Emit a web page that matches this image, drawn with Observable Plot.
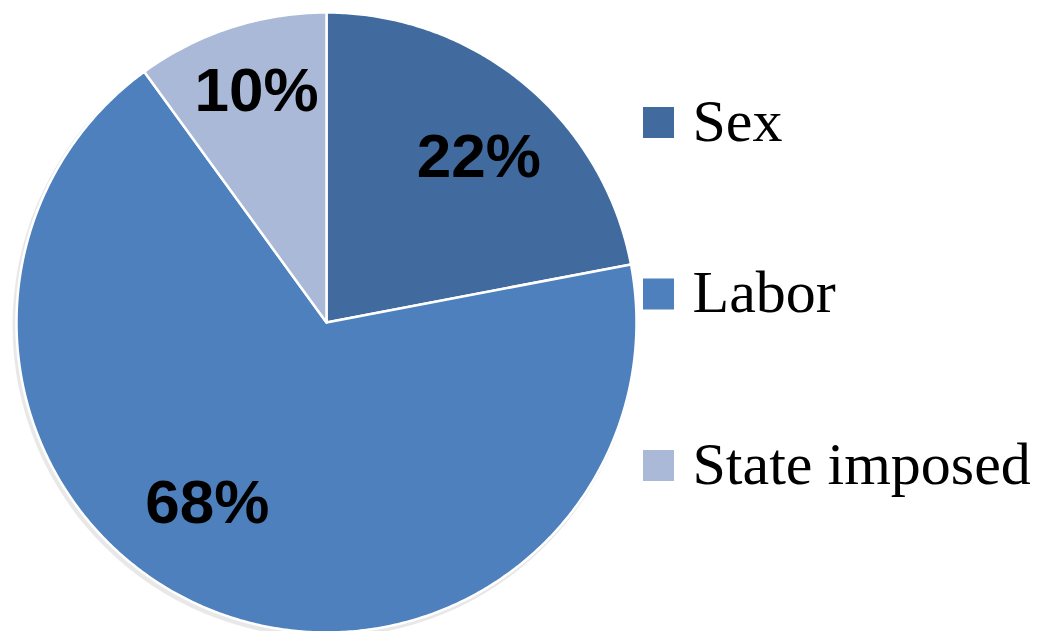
<!DOCTYPE html>
<html>
<head>
<meta charset="utf-8">
<script src="https://cdn.jsdelivr.net/npm/d3@7"></script>
<script src="https://cdn.jsdelivr.net/npm/@observablehq/plot@0.6"></script>
<style>
  html, body { margin: 0; padding: 0; background: #ffffff; }
  #chart { width: 1044px; height: 631px; overflow: hidden; }
</style>
</head>
<body>
<div id="chart"></div>
<script>
// ---- data ----
const categories = ["Sex", "Labor", "State imposed"];
const shares = [22, 68, 10];
const percentLabels = ["22%", "68%", "10%"];
const colors = ["#416A9E", "#4D80BC", "#A9B9D7"];

// ---- layout ----
const W = 1044, H = 631;
const cx = 326, cy = 322, R = 310;
const labelFrac = 0.72;
const labelNudgeX = [10, -37, -1];
const labelNudgeY = [7, -27, -19];
const legendX = 643, legendSize = 31, legendTextX = 692;
const legendBase0 = 140, legendStep = 171.5;

const arcs = d3.pie().sort(null).value(d => d)(shares);

const pt = (a, r) => [cx + r * Math.sin(a), cy - r * Math.cos(a)];

// polygon outline of each slice (center -> arc -> center)
const slicePts = [];
arcs.forEach((a, i) => {
  const cat = categories[i];
  slicePts.push({cat, x: cx, y: cy});
  const steps = Math.max(2, Math.ceil((a.endAngle - a.startAngle) / (Math.PI / 360)));
  for (let k = 0; k <= steps; k++) {
    const ang = a.startAngle + (a.endAngle - a.startAngle) * k / steps;
    const [x, y] = pt(ang, R);
    slicePts.push({cat, x, y});
  }
  slicePts.push({cat, x: cx, y: cy});
});

const labelRows = arcs.map((a, i) => {
  const mid = (a.startAngle + a.endAngle) / 2;
  const [x, y] = pt(mid, R * labelFrac);
  return {cat: categories[i], label: percentLabels[i], x: x + labelNudgeX[i], y: y + labelNudgeY[i]};
});

const legendRows = categories.map((c, i) => ({cat: c, base: legendBase0 + i * legendStep}));

const chart = Plot.plot({
  width: W,
  height: H,
  margin: 0,
  style: {background: "#ffffff", overflow: "hidden"},
  x: {domain: [0, W], range: [0, W], axis: null},
  y: {domain: [0, H], range: [0, H], axis: null},
  color: {domain: categories, range: colors},
  marks: [
    // soft shadow ring
    Plot.dot([{x: cx - 2, y: cy + 3}], {x: "x", y: "y", r: R + 2, fill: "#d9d9d9", stroke: "none", fillOpacity: 0.6}),
    Plot.line(slicePts, {x: "x", y: "y", z: "cat", fill: "cat", stroke: "#ffffff", strokeWidth: 2.5, strokeLinejoin: "round", curve: "linear-closed"}),
    Plot.text(labelRows, {x: "x", y: "y", text: "label", fill: "#000000", fontFamily: "Liberation Sans, Arial, sans-serif", fontWeight: "bold", fontSize: 62, textAnchor: "middle", lineAnchor: "middle"}),
    Plot.rect(legendRows, {x1: () => legendX, x2: () => legendX + legendSize, y1: d => d.base - 2 - legendSize, y2: d => d.base - 2, fill: "cat"}),
    Plot.text(legendRows, {x: () => legendTextX, y: "base", text: "cat", fill: "#000000", fontFamily: "Liberation Serif, Times New Roman, serif", fontSize: 60, textAnchor: "start", lineAnchor: "bottom"})
  ]
});

document.getElementById("chart").appendChild(chart);
</script>
</body>
</html>
